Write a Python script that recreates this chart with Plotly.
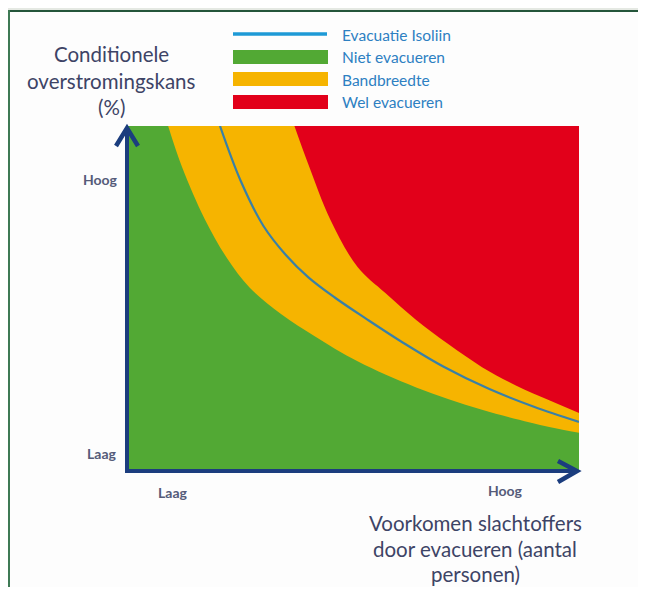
import plotly.graph_objects as go

# ---------------- data (0-100 conceptual scale) ----------------
band_low_x = [8.9, 12, 17, 22, 27, 34, 41.4, 50.9, 63.9, 78.5, 93.4, 100]
band_low_y = [100, 88, 73, 61.5, 53, 45.3, 38.9, 31.6, 24.0, 17.5, 12.5, 10.8]

iso_x = [20.4, 25, 30, 35, 40, 46, 53, 61, 70, 80, 90, 100]
iso_y = [100, 84, 71, 62.5, 56, 50, 43.8, 37.0, 30.0, 23.6, 18.4, 14.0]

band_high_x = [36.9, 40, 44.9, 50.9, 57, 63.9, 71, 78.5, 86, 93.4, 100]
band_high_y = [100, 88.8, 72.7, 59.0, 51.5, 43.6, 36.6, 29.9, 24.6, 20.3, 16.6]

legend_labels = ["Evacuatie Isoliin", "Niet evacueren", "Bandbreedte", "Wel evacueren"]
y_title = ["Conditionele", "overstromingskans", "(%)"]
x_title = ["Voorkomen slachtoffers", "door evacueren (aantal", "personen)"]
tick_low, tick_high = "Laag", "Hoog"

GREEN = "#52a934"
ORANGE = "#f6b400"
RED = "#e2001a"
ISO = "#3a80a6"
NAVY = "#1b3d7e"
PAGE = "#e5e9e3"
FONT = "Lato"

# ---------------- layout geometry (page has an 8px body margin) ----------------
OFF = 8
W, H = 630, 579
L, R, T, B = 120, 59, 118, 117
PW, PH = W - L - R, H - T - B


def px(x):
    return (x - OFF - L) / PW


def py(y):
    return (H - B - (y - OFF)) / PH


fig = go.Figure()

# orange band (above lower boundary)
fig.add_trace(go.Scatter(x=[band_low_x[0], 100], y=[100, 100], mode="lines",
                         line=dict(width=0), hoverinfo="skip", showlegend=False))
fig.add_trace(go.Scatter(x=band_low_x, y=band_low_y, mode="lines",
                         line=dict(width=0, shape="spline", color=ORANGE),
                         fill="tonexty", fillcolor=ORANGE, hoverinfo="skip", showlegend=False))
# red region (above upper boundary)
fig.add_trace(go.Scatter(x=[band_high_x[0], 100], y=[100, 100], mode="lines",
                         line=dict(width=0), hoverinfo="skip", showlegend=False))
fig.add_trace(go.Scatter(x=band_high_x, y=band_high_y, mode="lines",
                         line=dict(width=0, shape="spline", color=RED),
                         fill="tonexty", fillcolor=RED, hoverinfo="skip", showlegend=False))
# isoline
fig.add_trace(go.Scatter(x=iso_x, y=iso_y, mode="lines",
                         line=dict(width=2.2, shape="spline", color=ISO),
                         hoverinfo="skip", showlegend=False))

shapes = []
# page margin strips (top and left) and frame lines
shapes.append(dict(type="rect", xref="paper", yref="paper", layer="below",
                   x0=px(0), x1=px(700), y0=py(10), y1=py(0),
                   fillcolor=PAGE, line=dict(width=0)))
shapes.append(dict(type="rect", xref="paper", yref="paper", layer="below",
                   x0=px(0), x1=px(8), y0=py(700), y1=py(0),
                   fillcolor=PAGE, line=dict(width=0)))
shapes.append(dict(type="line", xref="paper", yref="paper", layer="below",
                   x0=px(8), x1=px(700), y0=py(11), y1=py(11),
                   line=dict(color="#24553a", width=2)))
shapes.append(dict(type="line", xref="paper", yref="paper", layer="below",
                   x0=px(9), x1=px(9), y0=py(10), y1=py(700),
                   line=dict(color="#3f7a55", width=2)))
# green area
shapes.append(dict(type="rect", xref="x", yref="y", layer="below",
                   x0=0, x1=100, y0=0, y1=100, fillcolor=GREEN, line=dict(width=0)))
# axes
shapes.append(dict(type="line", xref="paper", yref="paper", x0=px(127), x1=px(127),
                   y0=py(473), y1=py(129), line=dict(color=NAVY, width=4)))
shapes.append(dict(type="line", xref="paper", yref="paper", x0=px(125), x1=px(576),
                   y0=py(471), y1=py(471), line=dict(color=NAVY, width=4)))
shapes.append(dict(type="path", xref="paper", yref="paper",
                   path=f"M {px(116)} {py(146)} L {px(127)} {py(128)} L {px(138)} {py(146)}",
                   line=dict(color=NAVY, width=4.5)))
shapes.append(dict(type="path", xref="paper", yref="paper",
                   path=f"M {px(558)} {py(461)} L {px(577)} {py(471)} L {px(558)} {py(482)}",
                   line=dict(color=NAVY, width=4.5)))
# legend swatches
shapes.append(dict(type="line", xref="paper", yref="paper", x0=px(233), x1=px(327),
                   y0=py(34), y1=py(34), line=dict(color="#1e9ad6", width=3.5)))
for (y0, y1), c in zip([(50, 64), (72, 86), (95, 109)], [GREEN, ORANGE, RED]):
    shapes.append(dict(type="rect", xref="paper", yref="paper", x0=px(233), x1=px(328),
                       y0=py(y1), y1=py(y0), fillcolor=c, line=dict(width=0)))

ann = []
for lab, yy in zip(legend_labels, [35, 57, 80, 102]):
    ann.append(dict(text=lab, x=px(340), y=py(yy), xref="paper", yref="paper",
                    xanchor="left", yanchor="middle", showarrow=False,
                    font=dict(family=FONT, size=15.5, color="#2d80c2")))
for lab, yy in zip(y_title, [54, 81, 107]):
    ann.append(dict(text=lab, x=px(111), y=py(yy), xref="paper", yref="paper",
                    xanchor="center", yanchor="middle", showarrow=False,
                    font=dict(family=FONT, size=20.5, color="#3d4466")))
for lab, yy in zip(x_title, [523, 549, 574]):
    ann.append(dict(text=lab, x=px(475), y=py(yy), xref="paper", yref="paper",
                    xanchor="center", yanchor="middle", showarrow=False,
                    font=dict(family=FONT, size=20.5, color="#3d4466")))
tick_font = dict(family=FONT, size=14, color="#555b79", weight="bold")
ann.append(dict(text=tick_high, x=px(100), y=py(179), xref="paper", yref="paper",
                showarrow=False, xanchor="center", yanchor="middle", font=tick_font))
ann.append(dict(text=tick_low, x=px(101), y=py(453), xref="paper", yref="paper",
                showarrow=False, xanchor="center", yanchor="middle", font=tick_font))
ann.append(dict(text=tick_low, x=px(172), y=py(493), xref="paper", yref="paper",
                showarrow=False, xanchor="center", yanchor="middle", font=tick_font))
ann.append(dict(text=tick_high, x=px(505), y=py(491), xref="paper", yref="paper",
                showarrow=False, xanchor="center", yanchor="middle", font=tick_font))

fig.update_layout(
    width=W, height=H, autosize=False,
    margin=dict(l=L, r=R, t=T, b=B),
    paper_bgcolor="#fdfdfd", plot_bgcolor="rgba(0,0,0,0)",
    xaxis=dict(range=[0, 100], visible=False, fixedrange=True),
    yaxis=dict(range=[0, 100], visible=False, fixedrange=True),
    shapes=shapes, annotations=ann, showlegend=False,
)

fig.write_html("out.html")
